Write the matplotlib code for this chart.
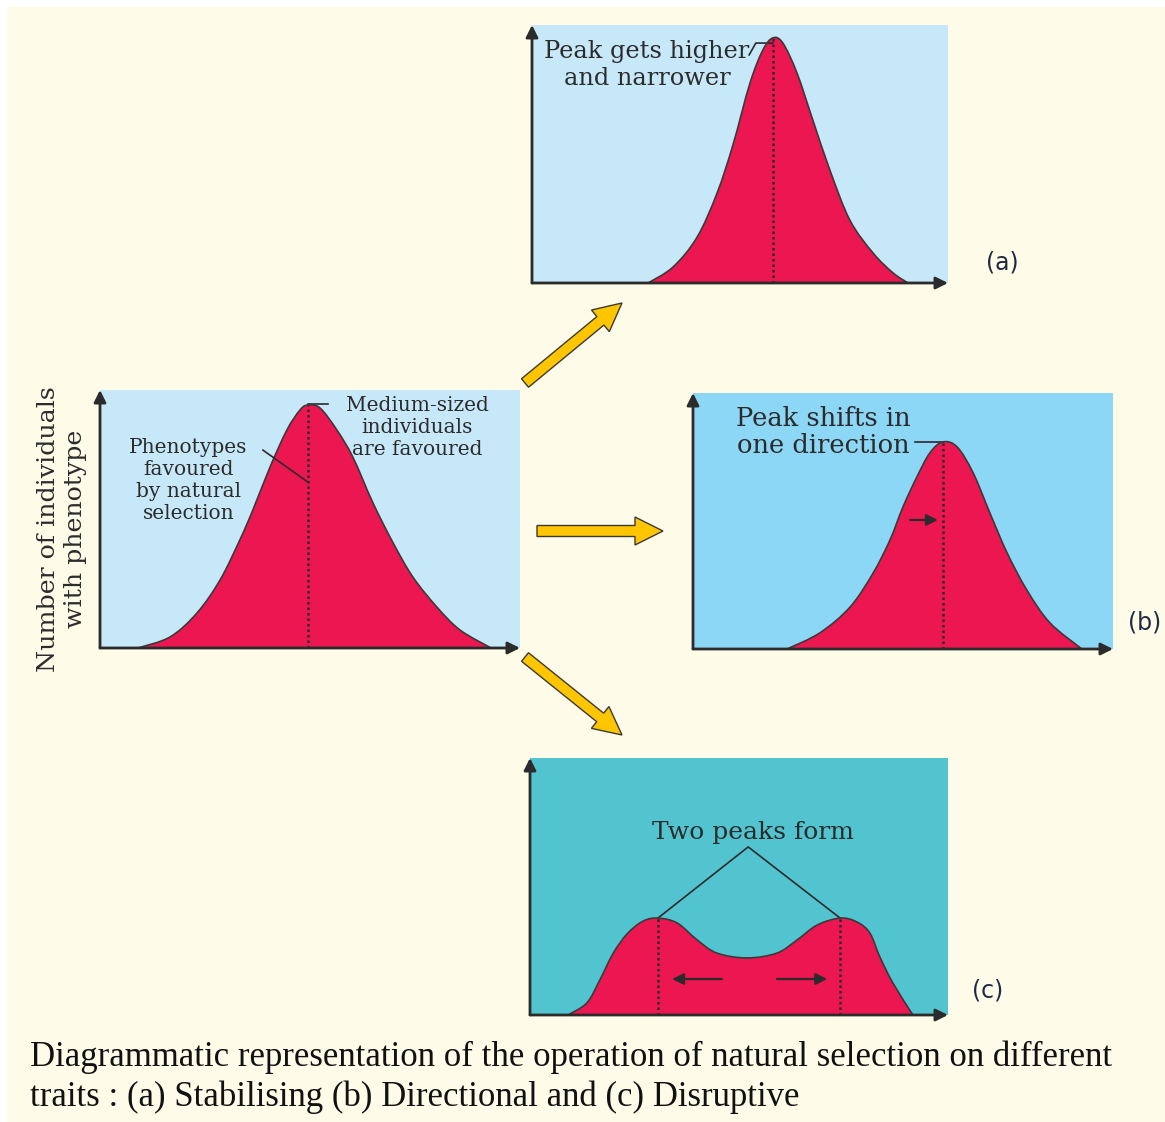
import matplotlib.pyplot as plt
from matplotlib.patches import Rectangle, FancyArrow, PathPatch
from matplotlib.path import Path

# curve samples (phenotype 0-10, count 0-10)
orig_x = [0.90, 1.67, 2.31, 2.86, 3.33, 3.64, 4.05, 4.45, 4.76, 4.95, 5.24, 5.64, 6.02, 6.50, 6.98, 7.45, 8.02, 8.57, 9.31]
orig_y = [0.00, 0.43, 1.36, 2.64, 4.19, 5.35, 7.02, 8.45, 9.22, 9.42, 9.30, 8.45, 7.40, 5.62, 4.07, 2.75, 1.59, 0.70, 0.00]

stab_x = [2.79, 3.39, 3.97, 4.45, 4.83, 5.24, 5.55, 5.79, 6.03, 6.37, 6.75, 7.16, 7.64, 8.20, 8.68, 9.04]
stab_y = [0.00, 0.62, 1.78, 3.49, 5.35, 7.75, 9.03, 9.50, 9.30, 8.14, 6.32, 4.38, 2.44, 1.16, 0.39, 0.00]

dirn_x = [2.24, 3.02, 3.74, 4.29, 4.69, 5.00, 5.33, 5.64, 5.95, 6.29, 6.67, 7.07, 7.48, 7.95, 8.50, 9.26]
dirn_y = [0.00, 0.63, 1.64, 2.97, 4.26, 5.55, 6.72, 7.66, 8.09, 7.89, 6.88, 5.31, 3.75, 2.30, 1.02, 0.00]

disr_x = [0.91, 1.36, 1.67, 1.99, 2.32, 2.70, 3.06, 3.52, 4.00, 4.47, 5.19, 5.91, 6.39, 6.87, 7.42, 7.82, 8.13, 8.37, 8.68, 9.16]
disr_y = [0.00, 0.47, 1.36, 2.40, 3.15, 3.65, 3.77, 3.58, 2.92, 2.41, 2.22, 2.41, 2.92, 3.50, 3.77, 3.62, 3.19, 2.26, 1.25, 0.00]

W, H = 1165, 1122
RED = '#EC1651'
INK = '#2b2b2b'
SERIF = 'DejaVu Serif'

fig = plt.figure(figsize=(W / 100, H / 100), dpi=100)
fig.patch.set_facecolor('white')

bg = fig.add_axes([0, 0, 1, 1])
bg.set_xlim(0, W)
bg.set_ylim(H, 0)
bg.axis('off')
bg.add_patch(Rectangle((7, 7), W, H, fc='#FEFBE9', ec='none'))


def panel(box, face):
    # box in pixels: left, top, right, bottom
    l, t, r, b = box
    ax = fig.add_axes([l / W, 1 - b / H, (r - l) / W, (b - t) / H])
    ax.set_xlim(0, 10)
    ax.set_ylim(0, 10)
    ax.set_facecolor(face)
    for s in ax.spines.values():
        s.set_visible(False)
    ax.set_xticks([])
    ax.set_yticks([])
    arr = dict(arrowstyle='-|>', lw=2, color=INK, mutation_scale=18, shrinkA=0, shrinkB=0)
    ax.annotate('', xy=(0, 1), xytext=(0, 0), xycoords='axes fraction', arrowprops=arr, annotation_clip=False, zorder=6)
    ax.annotate('', xy=(1, 0), xytext=(0, 0), xycoords='axes fraction', arrowprops=arr, annotation_clip=False, zorder=6)
    return ax


def smooth_path(xs, ys):
    # catmull-rom through the read points, drawn as bezier segments
    pts = list(zip(xs, ys))
    verts = [pts[0]]
    codes = [Path.MOVETO]
    n = len(pts)
    for k in range(n - 1):
        p0 = pts[max(k - 1, 0)]
        p1 = pts[k]
        p2 = pts[k + 1]
        p3 = pts[min(k + 2, n - 1)]
        c1 = (p1[0] + (p2[0] - p0[0]) / 6, p1[1] + (p2[1] - p0[1]) / 6)
        c2 = (p2[0] - (p3[0] - p1[0]) / 6, p2[1] - (p3[1] - p1[1]) / 6)
        verts += [c1, c2, p2]
        codes += [Path.CURVE4] * 3
    return verts, codes


def curve(ax, xs, ys):
    verts, codes = smooth_path(xs, ys)
    ax.add_patch(PathPatch(Path(verts + [verts[0]], codes + [Path.LINETO]), fc=RED, ec='none', zorder=2))
    ax.add_patch(PathPatch(Path(verts, codes), fc='none', ec='#3a3a3a', lw=1.2, zorder=3))


def dotted(ax, x, top):
    ax.plot([x, x], [0, top], color=INK, lw=1.8, ls=(0, (1, 1.2)), zorder=4)


def small_arrow(ax, x0, x1, y):
    ax.annotate('', xy=(x1, y), xytext=(x0, y),
                arrowprops=dict(arrowstyle='-|>', lw=1.6, color=INK, mutation_scale=17, shrinkA=0, shrinkB=0),
                zorder=5)


# original population
ax0 = panel((100, 390, 520, 648), '#C7E8F8')
curve(ax0, orig_x, orig_y)
i = orig_y.index(max(orig_y))
dotted(ax0, orig_x[i], orig_y[i])
ax0.plot([orig_x[i], 5.43], [9.46, 9.46], color=INK, lw=1.2)
ax0.plot([3.88, orig_x[i]], [7.67, 6.43], color=INK, lw=1.2, zorder=5)
ax0.text(7.55, 8.53, 'Medium-sized\nindividuals\nare favoured', ha='center', va='center',
         family=SERIF, fontsize=14.5, color=INK, linespacing=1.2)
ax0.text(2.10, 6.49, 'Phenotypes\nfavoured\nby natural\nselection', ha='center', va='center',
         family=SERIF, fontsize=14.5, color=INK, linespacing=1.2)

# (a) stabilising
axa = panel((532, 25, 948, 283), '#C7E8F8')
curve(axa, stab_x, stab_y)
i = stab_y.index(max(stab_y))
dotted(axa, stab_x[i], stab_y[i])
axa.plot([5.22, 5.38, stab_x[i]], [8.84, 9.30, 9.30], color=INK, lw=1.2)
axa.text(2.76, 8.45, 'Peak gets higher\nand narrower', ha='center', va='center',
         family=SERIF, fontsize=17.3, color=INK, linespacing=1.2)

# (b) directional
axb = panel((693, 393, 1113, 649), '#8DD7F6')
curve(axb, dirn_x, dirn_y)
i = dirn_y.index(max(dirn_y))
dotted(axb, dirn_x[i], dirn_y[i])
axb.plot([5.29, dirn_x[i]], [8.09, 8.09], color=INK, lw=1.2)
small_arrow(axb, 5.17, 5.83, 5.04)
axb.text(3.10, 8.48, 'Peak shifts in\none direction', ha='center', va='center',
         family=SERIF, fontsize=18.5, color=INK, linespacing=1.12)

# (c) disruptive
axc = panel((530, 758, 948, 1015), '#52C4D0')
curve(axc, disr_x, disr_y)
for k in (6, 14):
    dotted(axc, disr_x[k], disr_y[k])
axc.plot([disr_x[6], 5.22, disr_x[14]], [disr_y[6], 6.54, disr_y[14]], color=INK, lw=1.2)
small_arrow(axc, 4.59, 3.40, 1.40)
small_arrow(axc, 5.91, 7.11, 1.40)
axc.text(5.33, 7.12, 'Two peaks form', ha='center', va='center',
         family=SERIF, fontsize=18, color=INK)

# yellow arrows
for (x0, y0, x1, y1) in [(525, 383, 622, 303), (537, 531, 663, 531), (525, 657, 622, 735)]:
    bg.add_patch(FancyArrow(x0, y0, x1 - x0, y1 - y0, width=11, head_width=28, head_length=28,
                            length_includes_head=True, fc='#FFC600', ec='#3a3a3a', lw=1))

bg.text(62, 529, 'Number of individuals\nwith phenotype', rotation=90, ha='center', va='center',
        family=SERIF, fontsize=18.2, color=INK, linespacing=1.22)

for lab, x, y in [('(a)', 1002, 262), ('(b)', 1145, 622), ('(c)', 988, 990)]:
    bg.text(x, y, lab, ha='center', va='center', family='DejaVu Sans', fontsize=17,
            color='#1f2a44')

bg.text(30, 1057, 'Diagrammatic representation of the operation of natural selection on different',
        ha='left', va='center', family='Liberation Serif', fontsize=25, color='#111')
bg.text(30, 1097, 'traits : (a) Stabilising (b) Directional and (c) Disruptive',
        ha='left', va='center', family='Liberation Serif', fontsize=25, color='#111')

fig.savefig('out.png', dpi=100, facecolor=fig.get_facecolor())
